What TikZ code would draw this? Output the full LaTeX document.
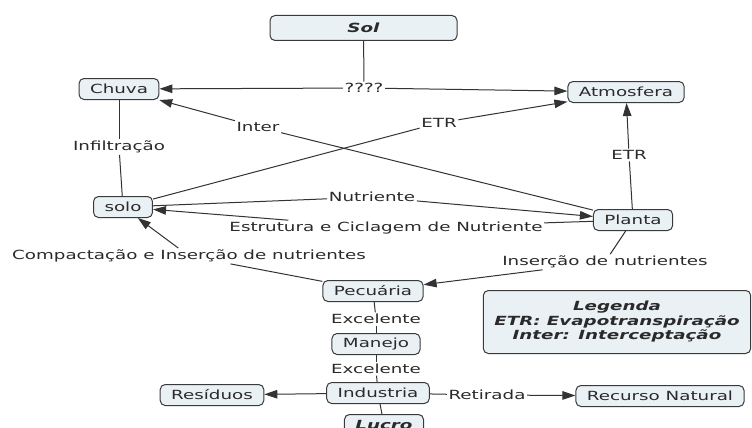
\documentclass[tikz,border=0pt]{standalone}
\usepackage{fontspec}
\setmainfont{DejaVu Sans}[FakeStretch=1.45]
\usetikzlibrary{arrows.meta}
\definecolor{boxfill}{HTML}{E9F1F5}
\definecolor{boxline}{HTML}{3A3A3A}
\definecolor{linkline}{HTML}{333333}
\definecolor{labeltext}{HTML}{2A2A2A}
\tikzset{
  every node/.style={font=\fontsize{12.6}{14.5}\selectfont, text=labeltext},
  concept/.style={draw=boxline, fill=boxfill, line width=1pt, rounded corners=5pt,
    inner xsep=11pt, inner ysep=3pt, minimum height=21pt},
  rel/.style={inner sep=1.5pt},
  link/.style={draw=linkline, line width=1pt},
  arr/.style={link, -{Triangle[length=13pt,width=8.5pt]}}
}
\begin{document}
\begin{tikzpicture}[x=1pt,y=-1pt]
\useasboundingbox [fill=white] (0,0) rectangle (752,428);
\node [concept, minimum width=187pt, minimum height=25pt] (sol) at (363.5,28) {\textbf{\textit{Sol}}};
\node [concept] (chuva) at (119,89) {Chuva};
\node [concept] (atm) at (626,92) {Atmosfera};
\node [concept] (solo) at (123,207) {solo};
\node [concept] (planta) at (633,220) {Planta};
\node [concept] (pecuaria) at (373,291) {Pecuária};
\node [concept] (manejo) at (376,344) {Manejo};
\node [concept] (industria) at (378,393) {Industria};
\node [concept] (lucro) at (384,425) {\textbf{\textit{Lucro}}};
\node [concept] (residuos) at (212,395) {Resíduos};
\node [concept] (recurso) at (660,396) {Recurso Natural};
\node [concept, minimum width=264pt, minimum height=63pt, align=center] (legenda) at (617,322)
  {\textbf{\textit{Legenda}}\\ \textbf{\textit{ETR: Evapotranspiração}}\\ \textbf{\textit{Inter: Interceptação}}};
\node [rel] (lsol) at (364,88) {????};
\node [rel] (linter) at (258,127) {Inter};
\node [rel] (letrsolo) at (439,123) {ETR};
\node [rel] (letrplanta) at (629,155) {ETR};
\node [rel] (linf) at (119,147) {Infiltração};
\node [rel] (lnut) at (372,197) {Nutriente};
\node [rel] (lest) at (386,228) {Estrutura e Ciclagem de Nutriente};
\node [rel] (lcomp) at (189,256) {Compactação e Inserção de nutrientes};
\node [rel] (lins) at (605,262) {Inserção de nutrientes};
\node [rel] (lexca) at (376,319) {Excelente};
\node [rel] (lexcb) at (376,369) {Excelente};
\node [rel] (lret) at (487,395) {Retirada};
\draw [link] (sol) -- (lsol);
\draw [arr] (lsol) -- (chuva);
\draw [arr] (lsol) -- (atm);
\draw [link] (planta) -- (linter);
\draw [arr] (linter) -- (chuva);
\draw [link] (solo) -- (letrsolo);
\draw [arr] (letrsolo) -- (atm);
\draw [link] (planta) -- (letrplanta);
\draw [arr] (letrplanta) -- (atm);
\draw [link] (chuva) -- (linf);
\draw [link] (linf) -- (solo);
\draw [link] (solo) -- (lnut);
\draw [arr] (lnut) -- (planta);
\draw [link] (planta) -- (lest);
\draw [arr] (lest) -- (solo);
\draw [link] (pecuaria) -- (lcomp);
\draw [arr] (lcomp) -- (solo);
\draw [link] (planta) -- (lins);
\draw [arr] (lins) -- (pecuaria);
\draw [link] (pecuaria) -- (lexca);
\draw [link] (lexca) -- (manejo);
\draw [link] (manejo) -- (lexcb);
\draw [link] (lexcb) -- (industria);
\draw [link] (industria) -- (lucro);
\draw [arr] (industria) -- (residuos);
\draw [link] (industria) -- (lret);
\draw [arr] (lret) -- (recurso);
\end{tikzpicture}
\end{document}
